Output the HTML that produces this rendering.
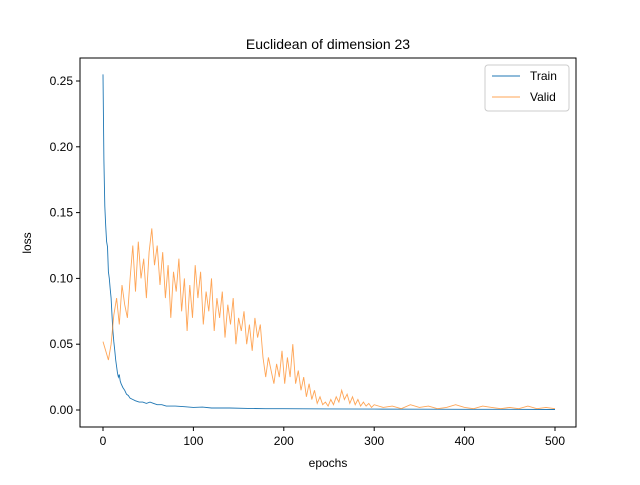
<!DOCTYPE html>
<html><head><meta charset="utf-8"><style>
body{margin:0;background:#fff;}
svg text{font-family:"Liberation Sans","DejaVu Sans",sans-serif;}
</style></head><body>
<svg id="chart" width="640" height="480" xmlns="http://www.w3.org/2000/svg">
<rect width="640" height="480" fill="#fff"/>
<text x="328" y="49" font-size="14" text-anchor="middle">Euclidean of dimension 23</text>
<g id="plot"></g>
<rect x="80" y="58" width="496" height="369" fill="none" stroke="#000" stroke-width="1"/>
<text x="328" y="467" font-size="12" text-anchor="middle">epochs</text>
<text x="31" y="243" font-size="12" text-anchor="middle" transform="rotate(-90 31 243)">loss</text>
<g>
<rect x="485" y="65" width="84" height="46" rx="3" fill="#fff" stroke="#ccc"/>
<line x1="492" y1="76" x2="520" y2="76" stroke="#1f77b4" stroke-width="1"/>
<text x="530" y="80" font-size="12">Train</text>
<line x1="492" y1="97" x2="520" y2="97" stroke="#ff7f0e" stroke-opacity="0.7" stroke-width="1"/>
<text x="530" y="101" font-size="12">Valid</text>
</g>
</svg>
<script>
const trainEpochs=[0,1,2,3,4,5,6,7,8,9,10,11,12,13,14,15,16,17,18,19,20,22,24,26,28,30,33,36,40,44,48,52,56,60,65,70,75,80,90,100,110,120,140,160,180,200,250,300,350,400,450,500];
const trainLoss=[0.255,0.19,0.155,0.14,0.128,0.124,0.105,0.10,0.092,0.085,0.072,0.06,0.052,0.045,0.038,0.033,0.028,0.025,0.027,0.022,0.02,0.017,0.015,0.012,0.011,0.009,0.008,0.007,0.006,0.006,0.005,0.006,0.005,0.004,0.004,0.003,0.003,0.003,0.0025,0.002,0.0022,0.0015,0.0015,0.0012,0.001,0.001,0.0008,0.0007,0.0006,0.0005,0.0005,0.0004];
const validEpochs=[0,3,6,9,12,15,18,21,24,27,30,33,36,39,42,45,48,51,54,57,60,63,66,69,72,75,78,81,84,87,90,93,96,99,102,105,108,111,114,117,120,123,126,129,132,135,138,141,144,147,150,153,156,159,162,165,168,171,174,177,180,183,186,189,192,195,198,201,204,207,210,213,216,219,222,225,228,231,234,237,240,243,246,249,252,255,258,261,264,267,270,273,276,279,282,285,288,291,294,297,300,310,320,330,340,350,360,370,380,390,400,410,420,430,440,450,460,470,480,490,500];
const validLoss=[0.052,0.045,0.038,0.05,0.072,0.085,0.065,0.095,0.08,0.07,0.10,0.125,0.09,0.128,0.10,0.115,0.085,0.12,0.138,0.11,0.125,0.095,0.12,0.085,0.11,0.07,0.105,0.09,0.115,0.075,0.10,0.06,0.095,0.07,0.11,0.085,0.105,0.065,0.09,0.075,0.10,0.06,0.085,0.07,0.09,0.055,0.08,0.065,0.085,0.05,0.07,0.06,0.075,0.05,0.065,0.045,0.07,0.055,0.065,0.04,0.025,0.04,0.03,0.02,0.035,0.025,0.045,0.02,0.04,0.025,0.05,0.02,0.03,0.015,0.025,0.01,0.02,0.008,0.015,0.005,0.01,0.004,0.006,0.003,0.008,0.004,0.01,0.006,0.015,0.008,0.012,0.005,0.01,0.004,0.008,0.003,0.006,0.003,0.005,0.002,0.004,0.002,0.003,0.001,0.004,0.002,0.003,0.001,0.002,0.004,0.002,0.001,0.003,0.002,0.001,0.002,0.001,0.003,0.001,0.002,0.001];
const xTicks=[0,100,200,300,400,500];
const yTicks=[0.00,0.05,0.10,0.15,0.20,0.25];
const yTickLabels=["0.00","0.05","0.10","0.15","0.20","0.25"];

const NS="http://www.w3.org/2000/svg";
const g=document.getElementById('plot');
function xs(v){return 103+v*(555-103)/500;}
function ys(v){return 410-v*(410-81)/0.25;}
function mk(tag,attrs){const e=document.createElementNS(NS,tag);for(const k in attrs)e.setAttribute(k,attrs[k]);g.appendChild(e);return e;}
xTicks.forEach(t=>{
  const l=mk('line',{x1:xs(t),x2:xs(t),y1:427,y2:431,stroke:'#000'});
  
  
  const tx=mk('text',{x:xs(t),y:445,'font-size':'12','text-anchor':'middle'});
  tx.textContent=String(t);
  
  
});
yTicks.forEach((t,i)=>{
  const l=mk('line',{x1:76,x2:80,y1:ys(t),y2:ys(t),stroke:'#000'});
  
  
  const tx=mk('text',{x:73,y:ys(t)+4,'font-size':'12','text-anchor':'end'});
  tx.textContent=yTickLabels[i];
  
  
});
function path(xa,ya){return xa.map((x,i)=>(i?'L':'M')+xs(x).toFixed(1)+' '+ys(ya[i]).toFixed(1)).join(' ');}
const pt=mk('path',{d:path(trainEpochs,trainLoss),fill:'none',stroke:'#1f77b4','stroke-width':'0.9'});


const pv=mk('path',{d:path(validEpochs,validLoss),fill:'none',stroke:'#ff7f0e','stroke-opacity':'0.7','stroke-width':'0.9'});


</script>
</body></html>
